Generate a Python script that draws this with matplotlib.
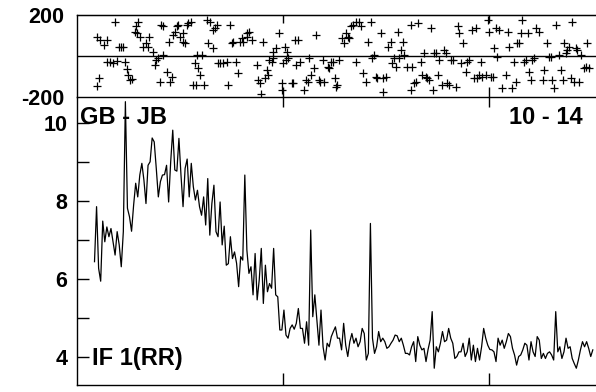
import numpy as np
import matplotlib.pyplot as plt

plt.rcParams['font.family'] = ['Liberation Sans', 'DejaVu Sans']
plt.rcParams['font.weight'] = 'bold'

# amplitude, one sample per channel, starting at channel ~8.5
amp = [
    6.45, 7.86, 6.28, 5.95, 7.49, 6.96, 7.34, 7.09, 7.30, 6.96,
    6.62, 7.22, 6.88, 6.32, 7.22, 10.55, 7.82, 7.60, 7.23, 7.90,
    8.46, 8.11, 8.67, 8.97, 8.54, 7.94, 8.92, 9.01, 9.62, 9.52,
    8.84, 8.11, 8.50, 8.67, 8.68, 8.92, 7.98, 9.01, 9.82, 8.80,
    8.77, 9.61, 8.67, 7.86, 8.84, 9.08,
    8.11, 8.97, 8.37, 8.03, 8.28, 7.86, 7.64, 8.11, 7.39, 8.58,
    7.13, 7.94, 8.41, 7.22, 7.09, 7.98, 6.88, 7.36, 6.36, 6.40,
    7.09, 6.53, 6.70, 6.41, 5.81, 6.58, 6.49, 8.67, 6.75, 6.15,
    6.32, 5.60, 6.66, 5.47, 5.98, 6.79, 5.38, 6.36, 5.68, 5.89,
    5.77, 6.79, 5.60, 5.55, 4.70, 4.70,
    5.21, 4.57, 4.49, 4.74, 4.83, 4.72, 4.87, 5.25, 4.74, 4.74,
    4.36, 4.91, 4.31, 7.26, 5.04, 5.60, 4.96, 4.31, 5.21, 4.27,
    3.93, 4.36, 4.27, 4.53, 4.66, 4.78, 4.49, 4.49, 4.19, 4.87,
    4.31, 4.02, 4.40, 4.61, 4.36, 4.49, 4.27, 4.40, 4.74, 4.61,
    3.93, 4.10, 7.43, 4.49, 4.10, 4.27, 4.66, 4.40, 4.49, 4.40, 4.23,
    4.27, 4.36, 4.44, 4.57, 4.55, 4.40, 4.49, 4.31, 4.10, 4.10,
    4.06, 4.27, 4.40, 3.89, 4.53, 4.31, 4.19, 4.23, 3.89, 4.20,
    4.44, 5.17, 3.72, 4.27, 4.14, 4.36, 4.66, 4.40, 4.44, 4.74,
    4.49, 4.36, 3.97, 4.02, 4.14, 4.14, 4.36, 4.02, 4.14, 4.49,
    3.93, 4.31, 3.89, 4.23, 3.93, 4.27, 4.74, 4.49, 4.31, 4.20, 4.19,
    4.14, 3.89, 4.49, 4.31, 4.44, 4.23, 4.40, 4.61, 4.53, 4.23,
    4.06, 3.80, 4.02, 4.06, 4.19, 4.36, 4.31, 3.93, 4.40, 4.14,
    4.02, 4.53, 4.44, 3.97, 4.10, 3.97, 4.10, 4.14, 4.06, 3.93,
    5.17, 4.14, 4.27, 3.97, 4.14, 4.49, 4.23, 4.27, 3.97, 3.84,
    3.72, 3.93, 4.19, 4.40, 4.27, 4.40, 4.23, 4.02, 4.19,
]
amp_x = np.arange(len(amp)) + 8.5

# phase points (channel, degrees)
phase_x = [
    9.5, 9.9, 10.8, 11.2, 13.3, 14.4, 14.7, 16.0, 17.6, 18.4,
    19.3, 20.6, 21.2, 22.5, 23.3, 24.1, 24.9, 25.7, 26.5, 28.2,
    28.6, 29.3, 29.8, 30.6, 32.2, 33.5, 34.6, 35.1, 37.1, 37.9,
    38.3, 39.5, 40.3, 40.8, 41.6, 41.9, 43.5, 44.8, 45.1, 46.3,
    46.8, 47.6, 48.4, 49.2, 50.0, 51.3, 51.6, 52.4, 53.2, 54.0,
    55.2, 56.1, 57.3, 57.8, 58.1, 58.9, 59.7, 60.5, 61.7, 63.3,
    63.8, 64.6, 65.9, 66.2, 67.0, 67.8, 68.6, 69.4, 71.0, 72.7,
    73.5, 74.3, 75.1, 75.9, 77.2, 78.3, 79.1, 79.9, 80.7, 82.4,
    82.7, 83.7, 84.8, 87.2, 88.0, 88.8, 89.6, 90.5, 91.3, 92.1,
    92.9, 93.4, 94.5, 95.0, 95.3, 96.6, 98.2, 99.4, 99.8, 100.2,
    101.0, 101.5, 102.1, 102.6, 104.2, 105.0, 105.8, 106.6, 107.4, 108.2,
    110.4, 111.2, 112.0, 112.8, 113.6, 115.2, 116.0, 117.3, 118.0, 119.3,
    120.1, 121.7, 122.5, 123.3, 124.1, 125.3, 125.7, 126.5, 127.3, 128.9,
    129.8, 130.6, 131.4, 132.2, 133.0, 133.8, 135.4, 135.4, 137.1, 137.9,
    138.7, 140.3, 141.1, 142.7, 143.5, 144.3, 145.1, 145.9, 147.6, 148.4,
    148.7, 150.0, 150.8, 152.4, 153.2, 154.0, 154.9, 155.7, 156.5, 157.3,
    158.1, 158.9, 160.5, 162.1, 162.1, 162.9, 163.7, 164.5, 165.8, 166.9,
    167.7, 168.6, 169.4, 170.2, 171.0, 171.8, 172.7, 173.5, 174.3, 175.1,
    175.9, 177.5, 178.3, 179.1, 179.9, 180.7, 181.6, 182.4, 184.0, 184.8,
    185.6, 186.4, 187.5, 188.8, 189.6, 190.4, 192.0, 192.8, 193.6, 194.5,
    195.3, 196.1, 196.9, 198.5, 199.4, 200.2, 201.0, 201.8, 202.6, 203.4,
    204.2, 205.0, 206.6, 208.3, 209.1, 209.9, 211.5, 212.3, 213.1, 213.9,
    214.7, 215.5, 216.3, 217.1, 218.0, 218.8, 219.6, 220.4, 221.2, 222.0,
    222.8, 224.4, 226.1, 226.9, 228.5, 229.3, 230.1, 230.9, 231.7, 232.5,
    234.1, 234.9, 235.8, 236.6, 237.4, 238.2, 239.0, 239.8, 240.6, 241.4,
    242.2, 243.0, 243.8, 244.7, 246.3, 247.1, 247.9, 248.7,
]
phase_deg = [
    -147, 91, -109, 78, 54, 78, -28, -28, -33, 168,
    -23, 46, 46, 46, -28, -65, -93, -118, -114, 119,
    144, 111, 168, 95, 46, 62, 46, 95, 21, -44,
    -20, -11, -126, 152, 5, 144, -77, 70, -126, -101,
    103, 119, 144, 152, 95, 111, 70, 62, 152, 160,
    168, -142, -36, -142, 5, -60, -93, 5, -142, 176,
    62, 168, 127, 38, 136, 152, -36, -36, -36, -28,
    -142, 152, 62, 70, -28, -85, 70, 87, 70, 95,
    111, 119, 78, -44, -118, -134, -183, 70, -109, -69,
    -93, -20, -28, 21, -11, 38, 111, -131, -167, -36,
    46, -20, 21, -11, -131, -131, 78, -44, 78, -28,
    -167, -118, -126, -11, -93, -60, 103, -118, -126, -20,
    -126, -52, -60, -28, -28, -109, -150, -142, -20, 87,
    62, 111, 95, 87, 144, 152, 168, -28, 168, 144,
    -85, -126, 70, 168, -11, 5, -101, -109, 111, -175,
    -109, -101, 46, 70, -36, -11, -52, 119, -11, 29,
    70, 5, -52, -167, 152, -52, -134, -126, 160, -28,
    -93, 13, -101, -109, -118, 136, -167, 13, 13, -93,
    -20, -142, 29, 13, -134, -142, -20, -20, -150, 144,
    111, -36, 62, -77, -28, -20, 127, -109, 136, -109,
    -93, -28, -101, -93, 176, 119, -101, -101, 38, 136,
    -3, 127, -158, -93, 119, 46, -158, -28, -126, 62,
    62, 111, 176, -28, -20, 111, -77, -118, -20, -11,
    136, 119, -118, -69, 62, -3, -3, -118, -158, 152,
    5, -69, -118, 62, 13, 29, 46, -109, 168, -126,
    38, 29, -126, 5, -60, -52, 62, -60,
]

x_ticks = [100, 200]
x_lim = (0, 254)

W, H = 596, 392
fig = plt.figure(figsize=(W / 100, H / 100), dpi=100)

# amplitude panel (added first so the phase panel ticks draw on top)
ax_amp = fig.add_axes([77 / W, 1 - 385 / H, 523 / W, 288 / H])
ax_ph = fig.add_axes([77 / W, 1 - 97 / H, 523 / W, 82 / H])

ax_amp.plot(amp_x, amp, color='black', lw=0.9)
ax_amp.set_xlim(x_lim)
ax_amp.set_ylim(3.29, 10.67)
ax_amp.set_yticks([4, 6, 8, 10])
ax_amp.set_yticks([5, 7, 9], minor=True)
ax_amp.set_xticks(x_ticks)
ax_amp.tick_params(axis='both', which='both', direction='in', length=8.6,
                   width=1, labelsize=15.5, pad=7)
ax_amp.tick_params(axis='x', labelbottom=False)
ax_amp.spines['top'].set_visible(False)
ax_amp.spines['right'].set_visible(False)
for s in ['left', 'bottom']:
    ax_amp.spines[s].set_linewidth(1)

ax_amp.text(0.006, 0.906, 'GB - JB', transform=ax_amp.transAxes,
            fontsize=17, fontweight='bold', va='baseline', ha='left')
ax_amp.text(0.9675, 0.906, '10 - 14', transform=ax_amp.transAxes,
            fontsize=17, fontweight='bold', va='baseline', ha='right')
ax_amp.text(0.028, 0.069, 'IF 1(RR)', transform=ax_amp.transAxes,
            fontsize=17, fontweight='bold', va='baseline', ha='left')

# phase panel
ax_ph.plot(phase_x, phase_deg, '+', color='black', ms=6, mew=0.9)
ax_ph.axhline(0, color='black', lw=1)
ax_ph.set_xlim(x_lim)
ax_ph.set_ylim(-200, 200)
ax_ph.set_yticks([200, -200])
ax_ph.set_yticklabels(['200', '-200'])
ax_ph.tick_params(axis='y', length=0, pad=9, labelsize=15.5)
ax_ph.set_xticks(x_ticks)
ax_ph.tick_params(axis='x', direction='inout', length=15, width=1,
                  labelbottom=False)
top = ax_ph.secondary_xaxis('top')
top.set_xticks(x_ticks)
top.tick_params(direction='in', length=6, width=1, labeltop=False)
for s in ['left', 'bottom', 'top']:
    ax_ph.spines[s].set_linewidth(1)

fig.savefig('out.png', dpi=100)
